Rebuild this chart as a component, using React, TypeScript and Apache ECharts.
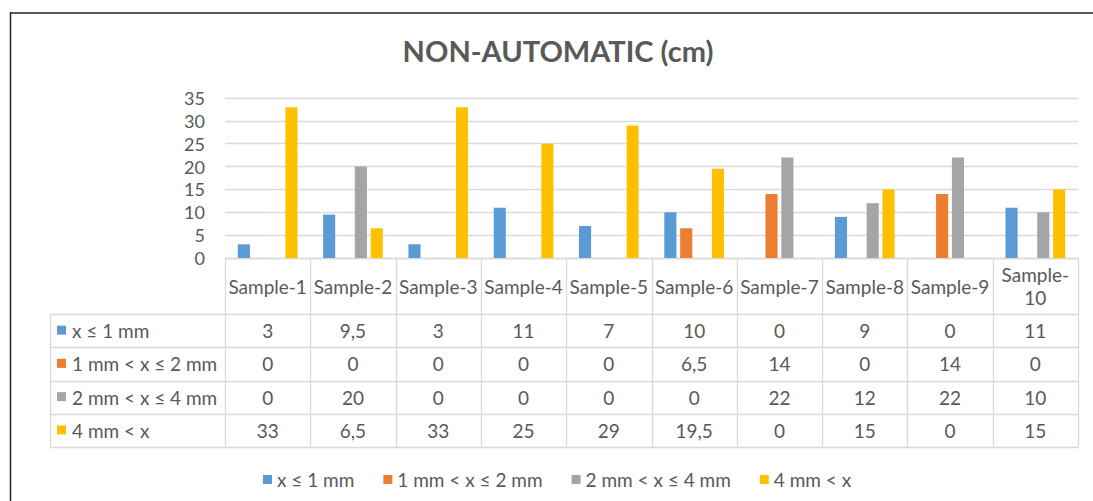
import React, { useEffect, useRef } from "react";
import * as echarts from "echarts";

// Particle-size counts per sample (non-automatic measurement)
const categories = [
  "Sample-1", "Sample-2", "Sample-3", "Sample-4", "Sample-5",
  "Sample-6", "Sample-7", "Sample-8", "Sample-9", "Sample-10",
];
const seriesNames = ["x ≤ 1 mm", "1 mm < x ≤ 2 mm", "2 mm < x ≤ 4 mm", "4 mm < x"];
const upTo1mm = [3, 9.5, 3, 11, 7, 10, 0, 9, 0, 11];
const from1to2mm = [0, 0, 0, 0, 0, 6.5, 14, 0, 14, 0];
const from2to4mm = [0, 20, 0, 0, 0, 0, 22, 12, 22, 10];
const over4mm = [33, 6.5, 33, 25, 29, 19.5, 0, 15, 0, 15];
const yMin = 0;
const yMax = 35;
const yStep = 5;

const seriesData = [upTo1mm, from1to2mm, from2to4mm, over4mm];
const colors = ["#5B9BD5", "#ED7D31", "#A5A5A5", "#FFC000"];

const FONT = "Lato, 'Liberation Sans', sans-serif";
const TEXT = "#595959";
const RULE = "#D9D9D9";
const CELL_FONT = 19;

// layout of plot area and the data table under it
const W = 1093;
const H = 501;
const plotLeft = 225;
const plotRight = 1078;
const plotTop = 98;
const plotBottom = 258;
const tableLeft = 50;
const headerBottom = 314;
const rowH = 33.25;

const fmt = (v: number) => String(v).replace(".", ",");

function buildTable(): any[] {
  const els: any[] = [];
  const colW = (plotRight - plotLeft) / categories.length;
  const tableBottom = headerBottom + rowH * seriesNames.length;
  const line = (x1: number, y1: number, x2: number, y2: number) => ({
    type: "line",
    silent: true,
    shape: { x1, y1, x2, y2 },
    style: { stroke: RULE, lineWidth: 1.3 },
  });
  // horizontal rules
  for (let r = 0; r <= seriesNames.length; r++) {
    const y = Math.round(headerBottom + r * rowH) + 0.5;
    els.push(line(tableLeft, y, plotRight, y));
  }
  // vertical rules
  for (let c = 0; c <= categories.length; c++) {
    const x = Math.round(plotLeft + c * colW) + 0.5;
    els.push(line(x, plotBottom, x, tableBottom));
  }
  els.push(line(tableLeft + 0.5, headerBottom, tableLeft + 0.5, tableBottom));

  // header: category names
  categories.forEach((name, c) => {
    const cx = plotLeft + (c + 0.5) * colW;
    const wrapped = name.length > 8 ? name.replace("-", "-\n") : name;
    els.push({
      type: "text",
      silent: true,
      x: cx,
      y: (plotBottom + headerBottom) / 2,
      style: {
        text: wrapped,
        fill: TEXT,
        font: `${CELL_FONT}px ${FONT}`,
        align: "center",
        verticalAlign: "middle",
        lineHeight: 23,
      },
    });
  });

  // rows: legend key, series name, values
  seriesNames.forEach((name, r) => {
    const cy = headerBottom + (r + 0.5) * rowH;
    els.push({
      type: "rect",
      silent: true,
      shape: { x: 57, y: cy - 5, width: 9, height: 9 },
      style: { fill: colors[r] },
    });
    els.push({
      type: "text",
      silent: true,
      x: 72,
      y: cy,
      style: { text: name, fill: TEXT, font: `${CELL_FONT}px ${FONT}`, verticalAlign: "middle" },
    });
    seriesData[r].forEach((v, c) => {
      els.push({
        type: "text",
        silent: true,
        x: plotLeft + (c + 0.5) * colW,
        y: cy,
        style: {
          text: fmt(v),
          fill: TEXT,
          font: `${CELL_FONT}px ${FONT}`,
          align: "center",
          verticalAlign: "middle",
        },
      });
    });
  });

  // chart frame edges
  els.push({
    type: "line",
    silent: true,
    shape: { x1: 10, y1: 13, x2: W, y2: 13 },
    style: { stroke: "#5A5A5A", lineWidth: 2 },
  });
  els.push({
    type: "line",
    silent: true,
    shape: { x1: 10.5, y1: 12, x2: 10.5, y2: H },
    style: { stroke: "#262626", lineWidth: 1.5 },
  });
  return els;
}

export default function App() {
  const ref = useRef<HTMLDivElement>(null);

  useEffect(() => {
    if (!ref.current) return;
    const chart = echarts.init(ref.current, null, { renderer: "svg" });
    chart.setOption({
      animation: false,
      backgroundColor: "#FFFFFF",
      title: {
        text: "NON-AUTOMATIC (cm)",
        left: 553,
        top: 31,
        textAlign: "center",
        textStyle: { fontFamily: FONT, fontSize: 29, fontWeight: "bold", color: TEXT },
      },
      legend: {
        left: 258,
        top: 465,
        icon: "rect",
        itemWidth: 9,
        itemHeight: 9,
        itemGap: 29,
        data: seriesNames,
        textStyle: { fontFamily: FONT, fontSize: CELL_FONT, color: TEXT },
      },
      grid: {
        left: plotLeft,
        right: W - plotRight,
        top: plotTop,
        bottom: H - plotBottom,
        containLabel: false,
      },
      xAxis: {
        type: "category",
        data: categories,
        axisLine: { show: true, lineStyle: { color: RULE, width: 1.3 } },
        axisTick: { show: false },
        axisLabel: { show: false },
      },
      yAxis: {
        type: "value",
        min: yMin,
        max: yMax,
        interval: yStep,
        axisLine: { show: false },
        axisTick: { show: false },
        axisLabel: { margin: 20, fontFamily: FONT, fontSize: 18, color: TEXT },
        splitLine: { lineStyle: { color: RULE, width: 1.3 } },
      },
      series: seriesNames.map((name, i) => ({
        name,
        type: "bar",
        data: seriesData[i],
        itemStyle: { color: colors[i] },
        barGap: "31%",
        barCategoryGap: "30%",
      })),
      graphic: buildTable(),
    });
    return () => chart.dispose();
  }, []);

  return (
    <div
      ref={ref}
      style={{ position: "fixed", left: 0, top: 0, width: W, height: H, background: "#fff" }}
    />
  );
}
